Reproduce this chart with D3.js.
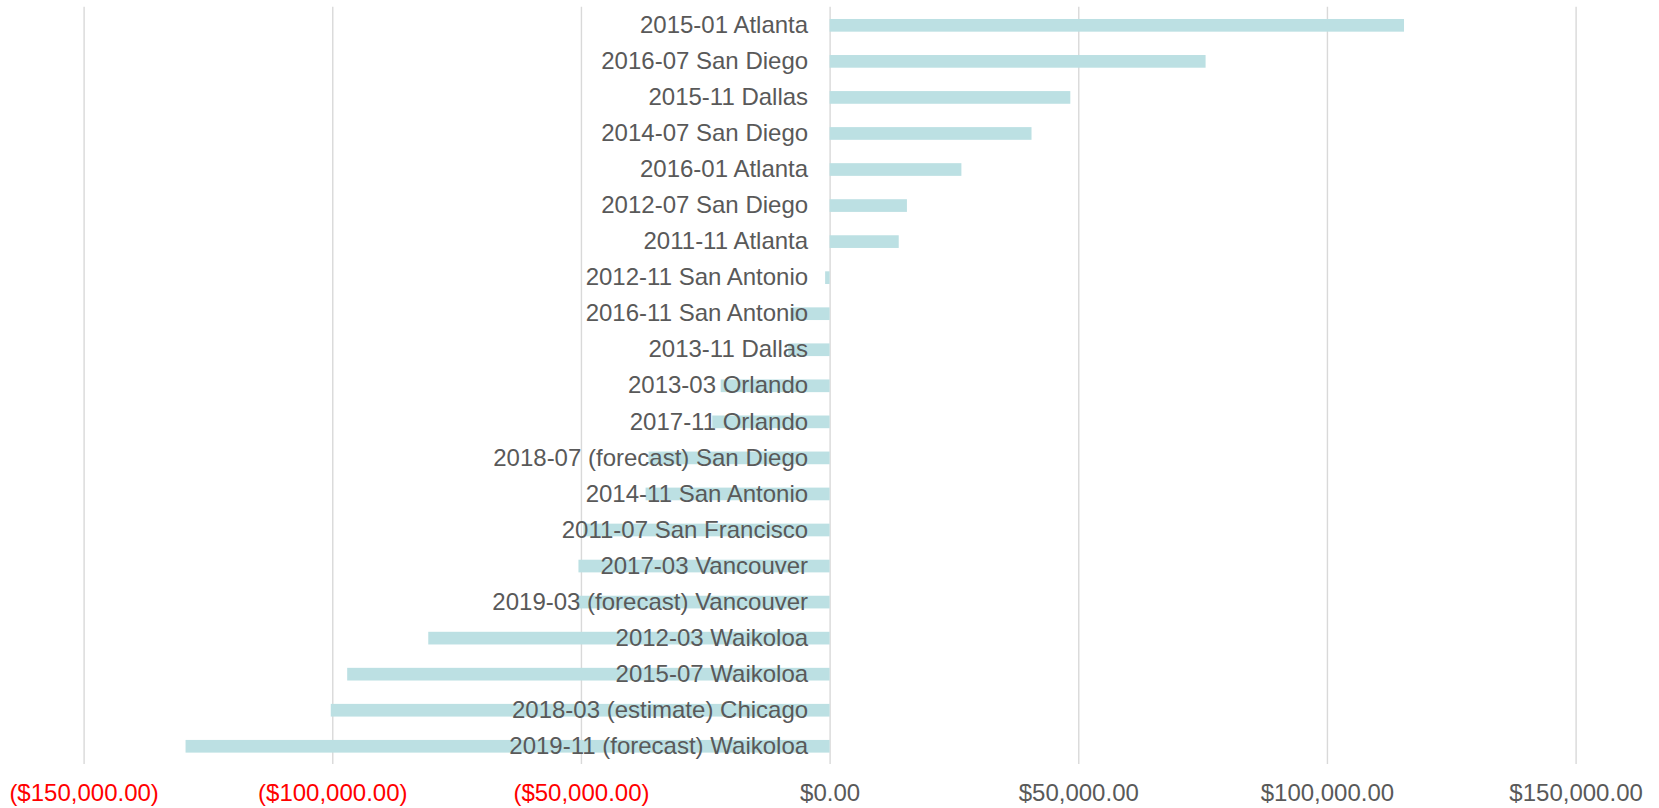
<!DOCTYPE html>
<html>
<head>
<meta charset="utf-8">
<script src="https://cdn.jsdelivr.net/npm/d3@7"></script>
<style>
  body { margin: 0; background: #fff; }
  svg text { font-family: "Liberation Sans", Arial, sans-serif; }
</style>
</head>
<body>
<div id="chart"></div>
<script>
var width = 1659;
var height = 808;

// chart data, top row first
var categories = [
    "2015-01 Atlanta", "2016-07 San Diego", "2015-11 Dallas", "2014-07 San Diego",
    "2016-01 Atlanta", "2012-07 San Diego", "2011-11 Atlanta", "2012-11 San Antonio",
    "2016-11 San Antonio", "2013-11 Dallas", "2013-03 Orlando", "2017-11 Orlando",
    "2018-07 (forecast) San Diego", "2014-11 San Antonio", "2011-07 San Francisco",
    "2017-03 Vancouver", "2019-03 (forecast) Vancouver", "2012-03 Waikoloa",
    "2015-07 Waikoloa", "2018-03 (estimate) Chicago", "2019-11 (forecast) Waikoloa"
];
var values = [
    115500, 75600, 48400, 40600,
    26500, 15550, 13900, -900,
    -7900, -8300, -21900, -23600,
    -36400, -37000, -49500,
    -50500, -50800, -80700,
    -97000, -100300, -129500
];
var tick_values = [-150000, -100000, -50000, 0, 50000, 100000, 150000];

var svg = d3.select("#chart").append("svg").attr("width", width).attr("height", height);

var x = d3.scaleLinear().domain([-150000, 150000]).range([83.6, 1575.6]);
var y = d3.scaleBand().domain(categories).range([7.3, 764.3])
          .paddingInner(0.648).paddingOuter(0.324);

var money = d3.format("$,.2f");
function fmt(v){
    return v < 0 ? "(" + money(-v) + ")" : money(v);
}

// gridlines + value axis
var x_axis = svg.append("g")
    .attr("transform", "translate(0,764)")
    .call(d3.axisBottom(x).tickValues(tick_values).tickSize(-(764 - 6.7)).tickFormat(fmt));
x_axis.select(".domain").remove();
x_axis.selectAll(".tick line").attr("stroke", "#d9d9d9").attr("stroke-width", 1.4);
x_axis.selectAll(".tick text")
    .attr("y", 29).attr("dy", "0.35em")
    .style("font-size", "24px")
    .attr("fill", function(d){ return d < 0 ? "#ff0000" : "#595959"; });

// bars
svg.append("g").selectAll("rect")
    .data(values)
    .enter().append("rect")
    .attr("x", function(d){ return x(Math.min(0, d)); })
    .attr("y", function(d, i){ return y(categories[i]); })
    .attr("width", function(d){ return Math.abs(x(d) - x(0)); })
    .attr("height", y.bandwidth())
    .attr("fill", "#bce0e3");

// category labels drawn on top of the bars
var y_axis = svg.append("g")
    .attr("transform", "translate(" + x(0) + ",0)")
    .call(d3.axisLeft(y).tickSize(0).tickPadding(21.5));
y_axis.select(".domain").remove();
y_axis.selectAll(".tick text")
    .style("font-size", "24px")
    .attr("fill", "#595959");
</script>
</body>
</html>
